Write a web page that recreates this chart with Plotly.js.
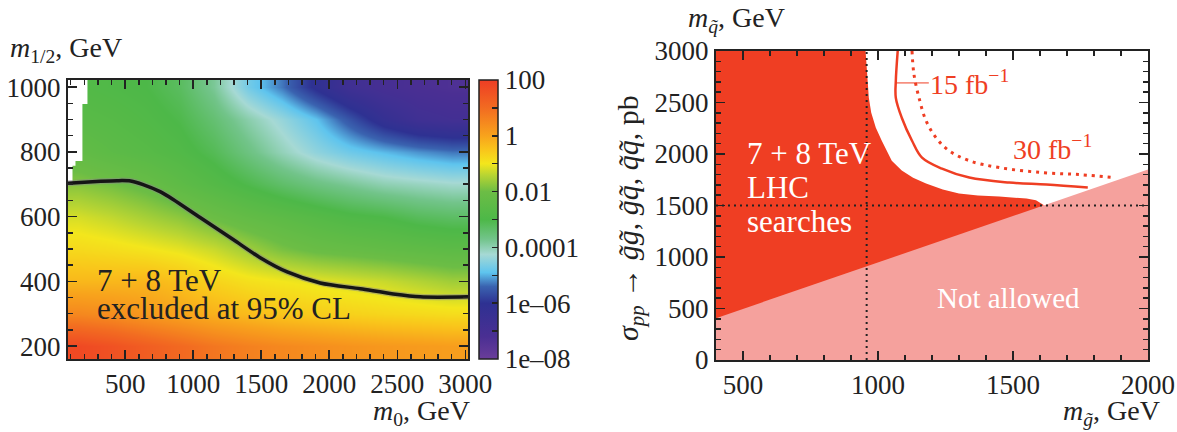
<!DOCTYPE html>
<html><head><meta charset="utf-8">
<script src="https://cdn.plot.ly/plotly-3.0.1.min.js"></script>
<style>html,body{margin:0;padding:0;background:#fff}</style>
</head><body><div id="chart" style="width:1177px;height:432px"></div>
<script>
// ---------- Left panel data: log10(sigma / pb) on an (m0, m1/2) grid ----------
const m0Grid = [150, 400, 650, 900, 1150, 1400, 1650, 1900, 2150, 2400, 2650, 2900];
const mHalfGrid = [200, 300, 400, 500, 600, 700, 800, 900, 1000];
const logSigma = [
  [1.75, 1.55, 1.3, 1.05, 0.8, 0.62, 0.48, 0.38, 0.28, 0.2, 0.15, 0.1],
  [0.5, 0.38, 0.18, 0.0, -0.2, -0.35, -0.5, -0.6, -0.68, -0.75, -0.8, -0.85],
  [-0.3, -0.3, -0.28, -0.45, -0.72, -0.9, -1.0, -1.1, -1.2, -1.3, -1.45, -1.6],
  [-0.8, -0.87, -0.97, -1.1, -1.3, -1.6, -1.9, -2.1, -2.2, -2.3, -2.4, -2.5],
  [-1.2, -1.35, -1.55, -1.75, -2.05, -2.3, -2.5, -2.7, -2.9, -3.0, -3.2, -3.3],
  [-1.8, -1.95, -2.15, -2.45, -2.75, -3.05, -3.35, -3.6, -3.8, -4.0, -4.1, -4.2],
  [-2.3, -2.5, -2.65, -2.85, -3.15, -3.6, -4.05, -4.45, -4.75, -4.95, -5.15, -5.3],
  [-2.6, -2.7, -2.85, -3.05, -3.45, -3.95, -4.4, -4.9, -5.6, -6.3, -6.75, -6.9],
  [-2.8, -2.9, -3.0, -3.25, -3.8, -4.7, -5.3, -6.1, -6.75, -7.05, -7.2, -7.3]
];
// region without data (top-left corner)
const noDataM0 = [70, 223, 223, 186, 186, 135, 135, 113, 113, 70];
const noDataMHalf = [1030, 1030, 948, 948, 772, 772, 757, 757, 700, 700];
// 95% CL exclusion contour
const exclM0 = [80, 200, 320, 440, 540, 632, 757, 853, 1051, 1294, 1493, 1691, 1934, 2228, 2471, 2669, 3020];
const exclMHalf = [703, 706, 709, 711, 710, 699, 677, 653, 597, 529, 473, 429, 395, 377, 361, 352, 352];
// colorbar ticks
const cbTickVals = [-8, -7, -6, -5, -4, -3, -2, -1, 0, 1, 2];
const cbTickText = ['1e\u201308', ' ', '1e\u201306', ' ', '0.0001', ' ', '0.01', ' ', '1', ' ', '100'];

// ---------- Right panel data: (m_gluino, m_squark) in GeV ----------
const lhcEdgeGluino = [954, 960, 966, 975, 992, 1014, 1051, 1088, 1130, 1178, 1240, 1300, 1370, 1449, 1550, 1585, 1615];
const lhcEdgeSquark = [3000, 2750, 2545, 2400, 2255, 2129, 1935, 1839, 1770, 1713, 1655, 1616, 1597, 1587, 1568, 1550, 1503];
const notAllowedGluino = [400, 2000];
const notAllowedSquark = [406, 1849];
const reach15Gluino = [1073, 1066, 1066, 1088, 1126, 1163, 1237, 1338, 1486, 1624, 1777];
const reach15Squark = [3000, 2710, 2545, 2352, 2129, 1965, 1858, 1771, 1723, 1703, 1674];
const reach30Gluino = [1126, 1133, 1152, 1178, 1215, 1263, 1338, 1449, 1609, 1747, 1877];
const reach30Squark = [3000, 2777, 2545, 2323, 2158, 2032, 1935, 1868, 1819, 1800, 1771];
const gluinoRef = 958;
const squarkRef = 1500;
const gluinoRange = [400, 2000];
const squarkRange = [0, 3000];

const RED = '#ef3e23', PINK = '#f5a19d', INK = '#222222';
const FONT = '"Liberation Serif", "DejaVu Serif", serif';

const colorscale = [
  [0, '#6a3d9a'], [0.08, '#4a2f93'], [0.2, '#2e3192'], [0.26, '#3a63b0'],
  [0.31, '#5ec4ee'], [0.375, '#a6d9d4'], [0.43, '#72c48a'], [0.5, '#4db848'],
  [0.6, '#6cbd45'], [0.66, '#b9d532'], [0.7, '#f3e61c'], [0.75, '#f9c51b'],
  [0.8, '#f8a31c'], [0.9, '#f26b21'], [1, '#ee3d24']
];

const traces = [
  {type: 'heatmap', x: m0Grid, y: mHalfGrid, z: logSigma, zsmooth: 'best',
   colorscale: colorscale, zmin: -8, zmax: 2, xaxis: 'x', yaxis: 'y', hoverinfo: 'skip',
   colorbar: {x: 479/1177, xanchor: 'left', xref: 'paper', xpad: 0, ypad: 0, thickness: 19, thicknessmode: 'pixels',
     len: 279, lenmode: 'pixels', y: 1 - 219.5/432, yanchor: 'middle',
     outlinecolor: INK, outlinewidth: 1.5, ticks: 'inside', ticklen: 6, tickcolor: INK, tickwidth: 1.5,
     tickvals: cbTickVals, ticktext: cbTickText, tickfont: {family: FONT, size: 27, color: INK}}},
  {type: 'scatter', x: noDataM0, y: noDataMHalf, fill: 'toself', fillcolor: '#ffffff',
   line: {width: 0, color: '#ffffff'}, mode: 'lines', xaxis: 'x', yaxis: 'y', showlegend: false, hoverinfo: 'skip'},
  {type: 'scatter', x: exclM0, y: exclMHalf, mode: 'lines', line: {color: '#888', width: 6, shape: 'spline', smoothing: 0.8},
   xaxis: 'x', yaxis: 'y', showlegend: false, opacity: 0.5, hoverinfo: 'skip'},
  {type: 'scatter', x: exclM0, y: exclMHalf, mode: 'lines', line: {color: '#151515', width: 3.5, shape: 'spline', smoothing: 0.8},
   xaxis: 'x', yaxis: 'y', showlegend: false},

  // right panel
  {type: 'scatter', x: [gluinoRange[0], gluinoRange[0]].concat(lhcEdgeGluino),
   y: [squarkRange[0], squarkRange[1]].concat(lhcEdgeSquark),
   fill: 'toself', fillcolor: RED, line: {width: 0, color: RED}, mode: 'lines',
   xaxis: 'x2', yaxis: 'y2', showlegend: false, hoverinfo: 'skip'},
  {type: 'scatter', x: [notAllowedGluino[0], notAllowedGluino[0], notAllowedGluino[1], notAllowedGluino[1]],
   y: [squarkRange[0], notAllowedSquark[0], notAllowedSquark[1], squarkRange[0]],
   fill: 'toself', fillcolor: PINK, line: {width: 0, color: PINK}, mode: 'lines',
   xaxis: 'x2', yaxis: 'y2', showlegend: false, hoverinfo: 'skip'},
  {type: 'scatter', x: reach15Gluino, y: reach15Squark, mode: 'lines',
   line: {color: RED, width: 2.5, shape: 'spline'}, xaxis: 'x2', yaxis: 'y2', showlegend: false},
  {type: 'scatter', x: reach30Gluino, y: reach30Squark, mode: 'lines',
   line: {color: RED, width: 3, dash: '3px,5px', shape: 'spline'}, xaxis: 'x2', yaxis: 'y2', showlegend: false},
  {type: 'scatter', x: [gluinoRef, gluinoRef], y: squarkRange, mode: 'lines',
   line: {color: INK, width: 2, dash: '2px,4px'}, xaxis: 'x2', yaxis: 'y2', showlegend: false},
  {type: 'scatter', x: gluinoRange, y: [squarkRef, squarkRef], mode: 'lines',
   line: {color: INK, width: 2, dash: '2px,4px'}, xaxis: 'x2', yaxis: 'y2', showlegend: false}
];

const axisBase = {
  showgrid: false, zeroline: false, showline: true, linecolor: INK, linewidth: 2,
  mirror: 'allticks', ticks: 'inside', tickcolor: INK, tickwidth: 1.5,
  tickfont: {family: FONT, size: 27, color: INK}, layer: 'above traces'
};

function ann(text, x, y, opts) {
  return Object.assign({text: text, x: x, y: y, xref: 'paper', yref: 'paper', showarrow: false,
    font: {family: FONT, size: 28, color: INK}, xanchor: 'left', yanchor: 'middle'}, opts || {});
}

const layout = {
  width: 1177, height: 432, margin: {l: 0, r: 0, t: 0, b: 0},
  paper_bgcolor: '#ffffff', plot_bgcolor: '#ffffff', showlegend: false,
  xaxis: Object.assign({}, axisBase, {domain: [68/1177, 468/1177], range: [80, 3020], anchor: 'y',
    tick0: 0, dtick: 500, ticklen: 9, minor: {dtick: 100, ticklen: 5, ticks: 'inside', tickcolor: INK}}),
  yaxis: Object.assign({}, axisBase, {domain: [1 - 359/432, 1 - 80/432], range: [160, 1022], anchor: 'x',
    tick0: 0, dtick: 200, ticklen: 9, minor: {dtick: 50, ticklen: 5, ticks: 'inside', tickcolor: INK}}),
  xaxis2: Object.assign({}, axisBase, {domain: [716/1177, 1148/1177], range: gluinoRange, anchor: 'y2',
    tick0: 0, dtick: 500, ticklen: 9, minor: {dtick: 100, ticklen: 5, ticks: 'inside', tickcolor: INK}}),
  yaxis2: Object.assign({}, axisBase, {domain: [1 - 360/432, 1 - 51/432], range: squarkRange, anchor: 'x2',
    tick0: 0, dtick: 500, ticklen: 9, minor: {dtick: 100, ticklen: 5, ticks: 'inside', tickcolor: INK}}),
  annotations: [
    ann('<i>m</i><sub>1/2</sub>, GeV', 8/1177, 1 - 50/432),
    ann('<i>m</i><sub>0</sub>, GeV', 472/1177, 1 - 412/432, {xanchor: 'right'}),
    ann('7 + 8 TeV', 95/1177, 1 - 280/432, {font: {family: FONT, size: 31, color: INK}}),
    ann('excluded at 95% CL', 95/1177, 1 - 308/432, {font: {family: FONT, size: 31, color: INK}}),
    ann('<i>m</i><sub><i>q\u0303</i></sub>, GeV', 686/1177, 1 - 20/432),
    ann('<i>m</i><sub><i>g\u0303</i></sub>, GeV', 1162/1177, 1 - 412/432, {xanchor: 'right'}),
    ann('<i>\u03c3</i><sub><i>pp</i></sub> \u2192 <i>g\u0303g\u0303</i>, <i>g\u0303q\u0303</i>, <i>q\u0303q\u0303</i>, pb',
        630/1177, 1 - 218/432, {textangle: -90, xanchor: 'center', font: {family: FONT, size: 30, color: INK}}),
    ann('7 + 8 TeV', 745/1177, 1 - 153/432, {font: {family: FONT, size: 31, color: '#ffffff'}}),
    ann('LHC', 745/1177, 1 - 188/432, {font: {family: FONT, size: 31, color: '#ffffff'}}),
    ann('searches', 745/1177, 1 - 222/432, {font: {family: FONT, size: 31, color: '#ffffff'}}),
    ann('Not allowed', 1008/1177, 1 - 298/432, {xanchor: 'center', font: {family: FONT, size: 29, color: '#ffffff'}}),
    {text: '15 fb<sup>\u22121</sup>', x: reach15Gluino[1], y: reach15Squark[1] - 20, xref: 'x2', yref: 'y2',
     showarrow: true, arrowhead: 0, arrowwidth: 1, arrowcolor: RED, ax: 74, ay: 0, axref: 'pixel', ayref: 'pixel',
     standoff: 0, font: {family: FONT, size: 28, color: RED}},
    {text: '30 fb<sup>\u22121</sup>', x: 1647, y: 2060, xref: 'x2', yref: 'y2', showarrow: false,
     font: {family: FONT, size: 28, color: RED}}
  ]
};

Plotly.newPlot('chart', traces, layout, {staticPlot: true, displayModeBar: false});
</script></body></html>
